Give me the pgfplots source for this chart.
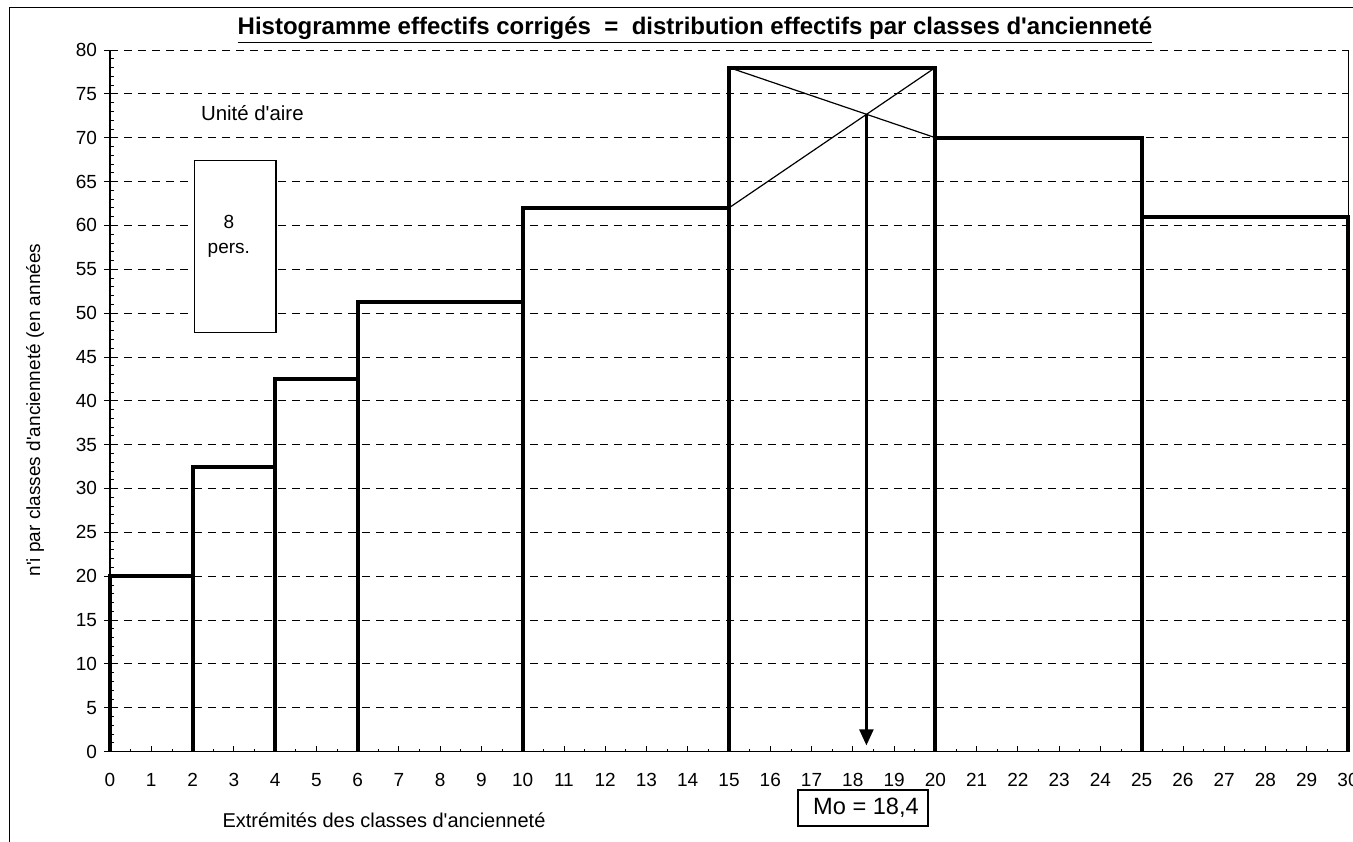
\documentclass[border=0pt]{standalone}
\usepackage{pgfplots}
\pgfplotsset{compat=1.18}
\usepackage{fontspec}
\setmainfont{Liberation Sans}
\usetikzlibrary{arrows.meta}
\newcommand{\q}{\textquotesingle}

\begin{document}
\begin{tikzpicture}
% page = 1353 x 841 px, 1 px = 0.5pt
\path[use as bounding box] (0,0) rectangle (676.5pt,-420.5pt);
\clip (0,0) rectangle (676.5pt,-420.5pt);
\draw[thin] (4.5pt,-421pt) -- (4.5pt,-3.5pt) -- (677pt,-3.5pt);

\node[font=\fontsize{12}{14}\selectfont\bfseries] at (347.5pt,-15pt)
  {\underline{Histogramme effectifs corrigés \ = \ distribution effectifs par classes d\q anciennet\'e}};

\begin{axis}[
    at={(55pt,-375.75pt)}, anchor=south west,
    scale only axis, width=619pt, height=350.75pt,
    xmin=0, xmax=30, ymin=0, ymax=80,
    axis x line*=bottom, axis y line*=left,
    x axis line style={-, thin},
    y axis line style={-, line width=1pt},
    xtick={0,...,30}, ytick={0,5,...,80},
    minor x tick num=1, minor y tick num=4,
    xtick align=inside, ytick align=outside,
    major tick length=3pt, minor tick length=2pt,
    minor x tick style={/pgfplots/minor tick length=1.5pt},
    minor y tick style={xshift=2pt},
    tick style={black, thin},
    ymajorgrids,
    major y grid style={black, thin, dash pattern=on 4pt off 3pt},
    /pgf/number format/assume math mode=true,
    ticklabel style={font=\fontsize{9.5}{11}\selectfont},
    xticklabel style={yshift=-7.5pt},
    clip=false,
]
% histogramme (densites par classe)
\addplot[black, line width=2pt, miter limit=2] coordinates {
  (0,0) (0,20) (2,20) (2,0) (2,32.5) (4,32.5) (4,0) (4,42.5) (6,42.5) (6,0)
  (6,51.25) (10,51.25) (10,0) (10,62) (15,62) (15,0) (15,78) (20,78) (20,0)
  (20,70) (25,70) (25,0) (25,61) (30,61) (30,0)
};
% diagonales du mode
\addplot[black, line width=0.6pt] coordinates {(15,62) (20,78)};
\addplot[black, line width=0.6pt] coordinates {(15,78) (20,70)};
% mode
\addplot[black, line width=1.2pt, -{Triangle[width=7pt,length=8pt]}] coordinates {(18.33,72.67) (18.33,0.7)};
% bord droit
\draw[thin] (rel axis cs:1,0) -- (rel axis cs:1,1);
% unite d'aire
\draw[black, line width=0.75pt, fill=white] (axis cs:2.05,47.8) rectangle (axis cs:4.02,67.4);
\node[font=\fontsize{9.5}{11}\selectfont] at (axis cs:2.88,60.4) {8};
\node[font=\fontsize{9.5}{11}\selectfont] at (axis cs:2.88,57.2) {pers.};
\node[font=\fontsize{10.2}{12}\selectfont] at (axis cs:3.45,72.8) {Unité d\q aire};
\end{axis}

\node[font=\fontsize{10}{12}\selectfont] at (192pt,-410pt) {Extrémités des classes d\q ancienneté};
\node[font=\fontsize{9.5}{11}\selectfont, rotate=90] at (17.5pt,-205pt) {n\q i par classes d\q ancienneté (en années};
\node[draw, line width=0.6pt, minimum width=65pt, minimum height=18pt, inner sep=0pt,
      font=\fontsize{11.8}{13}\selectfont, fill=white] at (431.5pt,-404pt) {\hspace{3pt}Mo = 18,4};
\end{tikzpicture}
\end{document}
